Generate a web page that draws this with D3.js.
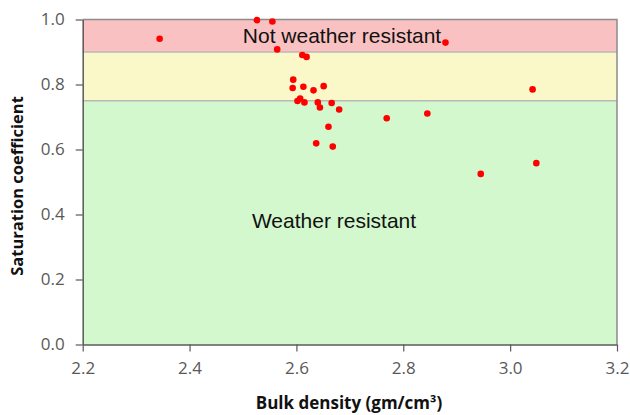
<!DOCTYPE html>
<html>
<head>
<meta charset="utf-8">
<script src="https://cdn.jsdelivr.net/npm/d3@7"></script>
<style>
  body { margin: 0; background: #fff; }
</style>
</head>
<body>
<script>
// chart size
var w = 630;
var h = 415;
var margin = {top: 19.5, right: 13, bottom: 70.5, left: 82.7};

// bulk density (x) and saturation coefficient (y)
var density = [2.344, 2.526, 2.555, 2.564, 2.611, 2.619, 2.594, 2.593, 2.613, 2.632,
               2.651, 2.607, 2.602, 2.615, 2.640, 2.644, 2.666, 2.680, 2.660, 2.637,
               2.668, 2.879, 3.042, 2.769, 2.845, 2.945, 3.049];
var saturation = [0.941, 0.998, 0.994, 0.908, 0.891, 0.885, 0.815, 0.789, 0.793, 0.782,
                  0.795, 0.757, 0.749, 0.745, 0.745, 0.729, 0.743, 0.723, 0.670, 0.619,
                  0.609, 0.929, 0.785, 0.696, 0.711, 0.525, 0.558];

// zone limits and tick labels
var zoneNames = ["Weather resistant", "", "Not weather resistant"];
var zoneLow = [0, 0.75, 0.9];
var zoneHigh = [0.75, 0.9, 1.0];
var zoneColors = ["#d3f8cd", "#faf7c9", "#f9c1c1"];
var xTicks = [2.2, 2.4, 2.6, 2.8, 3.0, 3.2];
var yTicks = [0, 0.2, 0.4, 0.6, 0.8, 1.0];

var svg = d3.select("body")
            .append("svg")
            .attr("width", w)
            .attr("height", h);

var x = d3.scaleLinear().domain([2.2, 3.2]).range([margin.left, w - margin.right]);
var y = d3.scaleLinear().domain([0, 1]).range([h - margin.bottom, margin.top]);

// background zones
svg.selectAll("rect.zone")
   .data(zoneLow)
   .enter()
   .append("rect")
   .attr("class", "zone")
   .attr("x", x(2.2))
   .attr("width", x(3.2) - x(2.2))
   .attr("y", function(d, i) { return y(zoneHigh[i]); })
   .attr("height", function(d, i) { return y(d) - y(zoneHigh[i]); })
   .attr("fill", function(d, i) { return zoneColors[i]; });

// zone boundaries
svg.selectAll("line.bound")
   .data([0.75, 0.9])
   .enter()
   .append("line")
   .attr("x1", x(2.2))
   .attr("x2", x(3.2))
   .attr("y1", function(d) { return y(d); })
   .attr("y2", function(d) { return y(d); })
   .attr("stroke", "#b8b8b8")
   .attr("stroke-width", 1.5);

// top and right border
svg.append("path")
   .attr("d", "M" + x(2.2) + "," + y(1) + "H" + x(3.2) + "V" + y(0))
   .attr("fill", "none")
   .attr("stroke", "#8c8c8c")
   .attr("stroke-width", 1.5);

// zone labels
svg.append("text")
   .attr("x", 342)
   .attr("y", y(0.905) - 7.5)
   .attr("text-anchor", "middle")
   .style("font-family", "Liberation Sans, Arial, sans-serif")
   .style("font-size", "21px")
   .attr("fill", "#111")
   .text(zoneNames[2]);

svg.append("text")
   .attr("x", 334)
   .attr("y", y(0.36))
   .attr("text-anchor", "middle")
   .style("font-family", "Liberation Sans, Arial, sans-serif")
   .style("font-size", "21px")
   .attr("fill", "#111")
   .text(zoneNames[0]);

// axes
var xAxis = d3.axisBottom(x).tickValues(xTicks).tickFormat(d3.format(".1f")).tickSize(7).tickSizeOuter(0);
var yAxis = d3.axisLeft(y).tickValues(yTicks).tickFormat(d3.format(".1f")).tickSize(7).tickSizeOuter(0);

var gx = svg.append("g")
            .attr("transform", "translate(0," + y(0) + ")")
            .call(xAxis);
var gy = svg.append("g")
            .attr("transform", "translate(" + x(2.2) + ",0)")
            .call(yAxis);

[gx, gy].forEach(function(g) {
  g.select(".domain").attr("stroke", "#595959").attr("stroke-width", 1.5);
  g.selectAll(".tick line").attr("stroke", "#595959").attr("stroke-width", 1.2);
  g.selectAll(".tick text")
   .style("font-family", "Open Sans, sans-serif")
   .style("font-size", "17px")
   .attr("fill", "#595959");
});
gx.selectAll(".tick text").attr("y", 12).attr("dy", "1em");
gy.selectAll(".tick text").attr("x", -18);

// points
svg.selectAll("circle.pt")
   .data(density)
   .enter()
   .append("circle")
   .attr("class", "pt")
   .attr("cx", function(d) { return x(d); })
   .attr("cy", function(d, i) { return y(saturation[i]); })
   .attr("r", 3.3)
   .attr("fill", "#ff0000");

// axis titles
svg.append("text")
   .attr("x", 349)
   .attr("y", 409)
   .attr("text-anchor", "middle")
   .style("font-family", "Open Sans, sans-serif")
   .style("font-size", "17px")
   .style("font-weight", "bold")
   .attr("fill", "#111")
   .text("Bulk density (gm/cm³)");

svg.append("text")
   .attr("transform", "translate(23,186) rotate(-90)")
   .attr("text-anchor", "middle")
   .style("font-family", "Open Sans, sans-serif")
   .style("font-size", "16.5px")
   .style("font-weight", "bold")
   .attr("fill", "#111")
   .text("Saturation coefficient");
</script>
</body>
</html>
